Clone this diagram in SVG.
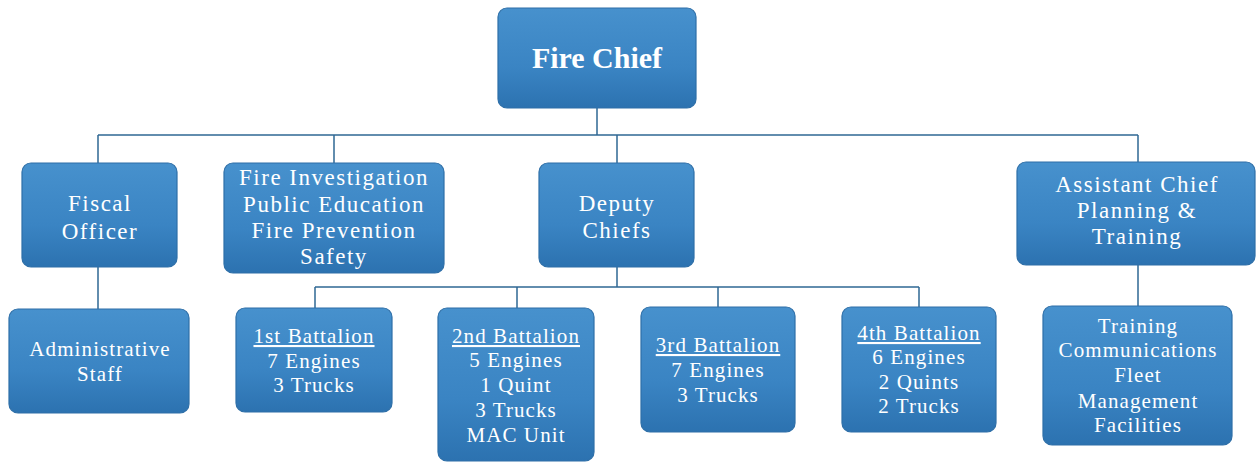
<svg xmlns="http://www.w3.org/2000/svg" width="1257" height="462" viewBox="0 0 1257 462">
<defs>
<linearGradient id="g" x1="0" y1="0" x2="0" y2="1">
<stop offset="0" stop-color="#4791cd"/>
<stop offset="0.6" stop-color="#3a84c3"/>
<stop offset="1" stop-color="#2c72b0"/>
</linearGradient>
<style>
.box{fill:url(#g);stroke:#2e6fa8;stroke-width:1.2}
.t{font-family:"Liberation Serif","Times New Roman",serif;fill:#ffffff;text-anchor:middle}
.u{font-size:23px;letter-spacing:1.5px}
.l{font-size:21px;letter-spacing:1.1px}
.c{stroke:#2f6894;stroke-width:1.5;fill:none}
</style>
</defs>
<rect width="1257" height="462" fill="#ffffff"/>
<g id="connectors">
<path class="c" d="M597 108V135M98 135H1138M98 135V163M334 135V163M617 135V163M1138 135V162"/>
<path class="c" d="M98 267V309M1138 265V306"/>
<path class="c" d="M617 267V287M315 287H919M315 287V308M517 287V308M718 287V307M919 287V307"/>
</g>
<g id="fire-chief">
<rect class="box" x="498" y="8" width="198" height="100" rx="9"/>
<text class="t" x="597" y="68" font-size="30" font-weight="bold">Fire Chief</text>
</g>
<g id="fiscal-officer">
<rect class="box" x="22" y="163" width="155" height="104" rx="9"/>
<text class="t u" x="100" y="211">Fiscal</text>
<text class="t u" x="100" y="239">Officer</text>
</g>
<g id="fire-investigation">
<rect class="box" x="224" y="163" width="220" height="110" rx="9"/>
<text class="t u" x="334" y="185">Fire Investigation</text>
<text class="t u" x="334" y="212">Public Education</text>
<text class="t u" x="334" y="238">Fire Prevention</text>
<text class="t u" x="334" y="264">Safety</text>
</g>
<g id="deputy-chiefs">
<rect class="box" x="539" y="163" width="155" height="104" rx="9"/>
<text class="t u" x="617" y="211">Deputy</text>
<text class="t u" x="617" y="238">Chiefs</text>
</g>
<g id="assistant-chief">
<rect class="box" x="1017" y="162" width="238" height="103" rx="9"/>
<text class="t u" x="1137" y="192">Assistant Chief</text>
<text class="t u" x="1137" y="218">Planning &amp;</text>
<text class="t u" x="1137" y="244">Training</text>
</g>
<g id="administrative-staff">
<rect class="box" x="9" y="309" width="180" height="104" rx="9"/>
<text class="t l" x="100" y="356">Administrative</text>
<text class="t l" x="100" y="381">Staff</text>
</g>
<g id="battalion-1">
<rect class="box" x="236" y="308" width="156" height="104" rx="9"/>
<text class="t l" x="314" y="343" text-decoration="underline">1st Battalion</text>
<text class="t l" x="314" y="368">7 Engines</text>
<text class="t l" x="314" y="392">3 Trucks</text>
</g>
<g id="battalion-2">
<rect class="box" x="438" y="308" width="156" height="153" rx="9"/>
<text class="t l" x="516" y="343" text-decoration="underline">2nd Battalion</text>
<text class="t l" x="516" y="367">5 Engines</text>
<text class="t l" x="516" y="392">1 Quint</text>
<text class="t l" x="516" y="417">3 Trucks</text>
<text class="t l" x="516" y="442">MAC Unit</text>
</g>
<g id="battalion-3">
<rect class="box" x="641" y="307" width="154" height="125" rx="9"/>
<text class="t l" x="718" y="352" text-decoration="underline">3rd Battalion</text>
<text class="t l" x="718" y="377">7 Engines</text>
<text class="t l" x="718" y="402">3 Trucks</text>
</g>
<g id="battalion-4">
<rect class="box" x="842" y="307" width="154" height="125" rx="9"/>
<text class="t l" x="919" y="340" text-decoration="underline">4th Battalion</text>
<text class="t l" x="919" y="364">6 Engines</text>
<text class="t l" x="919" y="389">2 Quints</text>
<text class="t l" x="919" y="413">2 Trucks</text>
</g>
<g id="training">
<rect class="box" x="1043" y="306" width="189" height="139" rx="9"/>
<text class="t l" x="1138" y="333">Training</text>
<text class="t l" x="1138" y="357">Communications</text>
<text class="t l" x="1138" y="382">Fleet</text>
<text class="t l" x="1138" y="408">Management</text>
<text class="t l" x="1138" y="432">Facilities</text>
</g>
</svg>
